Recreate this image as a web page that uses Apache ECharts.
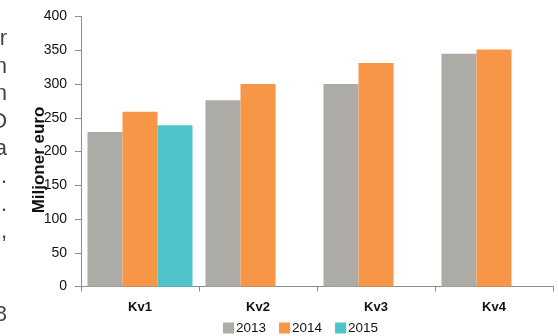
<!DOCTYPE html>
<html>
<head>
<meta charset="utf-8">
<script src="https://cdn.jsdelivr.net/npm/echarts@6/dist/echarts.min.js"></script>
<style>
  html, body { margin: 0; padding: 0; background: #fff; }
  #main { width: 558px; height: 336px; }
</style>
</head>
<body>
<div id="main"></div>
<script>
// kvartal-omsetning, miljoner euro
var kvartaler = ['Kv1', 'Kv2', 'Kv3', 'Kv4'];
var ar2013 = [229, 276, 300, 345];
var ar2014 = [259, 300, 331, 351];
var ar2015 = [239, null, null, null];
var yTicks = [0, 50, 100, 150, 200, 250, 300, 350, 400];

// avskurne tegn fra teksten til venstre
var kantTegn = ['r', 'n', 'n', 'O', 'a', '.', '.', ',', '', '', '8'];

var fnt = '"Liberation Sans", Arial, Helvetica, sans-serif';

var kantGrafikk = kantTegn.map(function (t, i) {
    return {
        type: 'text',
        right: 551,
        top: 28 + i * 27.6,
        style: { text: t, fill: '#444', font: '300 22px ' + fnt, textAlign: 'right' }
    };
});

var myChart = echarts.init(document.getElementById('main'));
var option = {
    animation: false,
    textStyle: { fontFamily: fnt },
    grid: {
        left: 81,
        right: 5,
        top: 16.5,
        bottom: 49.5
    },
    legend: {
        data: ['2013', '2014', '2015'],
        left: 223,
        top: 321,
        padding: 0,
        itemWidth: 11,
        itemHeight: 11,
        itemGap: 13,
        icon: 'rect',
        textStyle: { color: '#111', fontSize: 13.5, padding: [0, 0, 0, -3] }
    },
    xAxis: {
        type: 'category',
        data: kvartaler,
        axisLine: { show: true, lineStyle: { color: '#8c8c8c', width: 1 } },
        axisTick: { show: true, length: 5, lineStyle: { color: '#8c8c8c' } },
        axisLabel: { color: '#111', fontWeight: 'bold', fontSize: 13, margin: 14 }
    },
    yAxis: {
        type: 'value',
        min: 0,
        max: 400,
        interval: 50,
        splitLine: { show: false },
        axisLine: { show: true, lineStyle: { color: '#8c8c8c', width: 1 } },
        axisTick: { show: true, length: 6, lineStyle: { color: '#8c8c8c' } },
        axisLabel: {
            color: '#111',
            fontSize: 14,
            margin: 14,
            formatter: function (v) { return yTicks.indexOf(v) >= 0 ? v : ''; }
        }
    },
    graphic: kantGrafikk.concat([
        {
            type: 'text',
            x: 31,
            y: 160,
            rotation: Math.PI / 2,
            style: {
                text: 'Miljoner euro',
                fill: '#111',
                font: 'bold 17px ' + fnt,
                textAlign: 'center',
                textVerticalAlign: 'top'
            }
        }
    ]),
    series: [
        {
            name: '2013',
            type: 'bar',
            data: ar2013,
            barGap: '0%',
            barCategoryGap: '11%',
            itemStyle: { color: '#adaba6' }
        },
        {
            name: '2014',
            type: 'bar',
            data: ar2014,
            itemStyle: { color: '#f79646' }
        },
        {
            name: '2015',
            type: 'bar',
            data: ar2015,
            itemStyle: { color: '#4fc3ca' }
        }
    ]
};
myChart.setOption(option);
</script>
</body>
</html>
